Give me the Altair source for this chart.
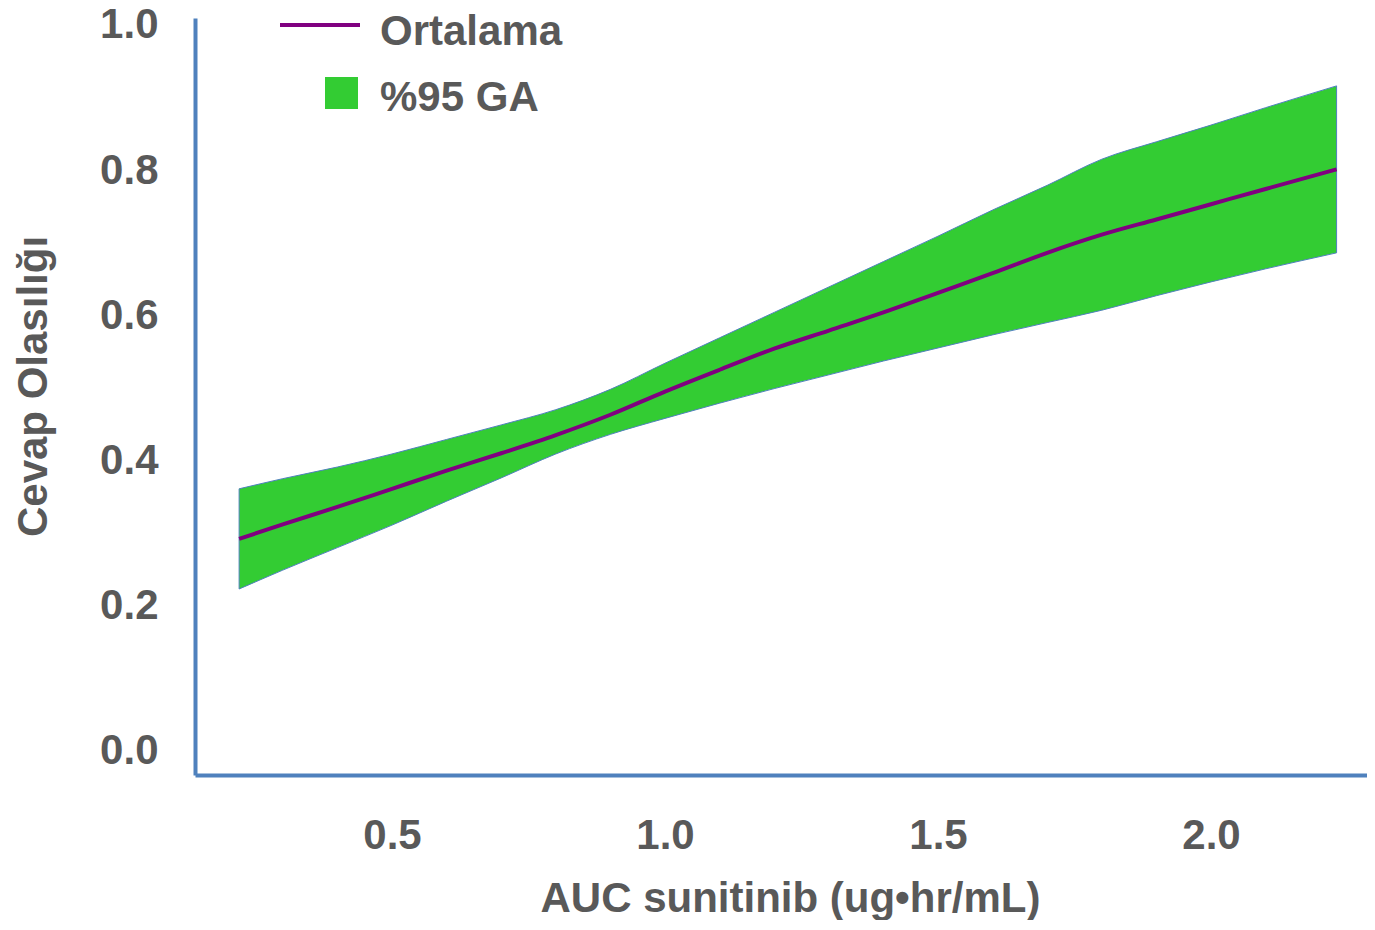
import altair as alt
import pandas as pd

# Data
auc = [0.22, 0.3, 0.4, 0.5, 0.6, 0.7, 0.8, 0.9, 1.0, 1.1, 1.2, 1.3, 1.4,
       1.5, 1.6, 1.7, 1.8, 1.9, 2.0, 2.1, 2.23]
mean = [0.288, 0.308, 0.332, 0.357, 0.382, 0.406, 0.431, 0.459, 0.491, 0.521,
        0.550, 0.575, 0.600, 0.627, 0.654, 0.682, 0.707, 0.728, 0.749, 0.770, 0.797]
upper = [0.357, 0.371, 0.387, 0.405, 0.425, 0.445, 0.466, 0.494, 0.530, 0.565,
         0.600, 0.635, 0.670, 0.705, 0.741, 0.775, 0.811, 0.835, 0.858, 0.882, 0.912]
lower = [0.219, 0.245, 0.276, 0.307, 0.340, 0.372, 0.405, 0.432, 0.454, 0.475,
         0.495, 0.514, 0.533, 0.551, 0.569, 0.586, 0.603, 0.623, 0.642, 0.660, 0.682]
x_ticks = [0.5, 1.0, 1.5, 2.0]
y_ticks = [0.0, 0.2, 0.4, 0.6, 0.8, 1.0]
legend_line_label = ["Ortalama"]
legend_band_label = ["%95 GA"]

FONT = "Liberation Sans"
TXT = "#595959"
AXIS = "#4F81BD"
GREEN = "#33CC33"
PURPLE = "#800080"

df = pd.DataFrame({"auc": auc, "mean": mean, "upper": upper, "lower": lower})

xscale = alt.Scale(domain=[0.1392, 2.2857], nice=False, zero=False)
yscale = alt.Scale(domain=[-0.0372, 1.0055], nice=False, zero=False)

xaxis = alt.Axis(values=x_ticks, format=".1f", title="AUC sunitinib (ug•hr/mL)",
                 grid=False, ticks=False, tickSize=0, domainColor=AXIS, domainWidth=4,
                 labelFont=FONT, labelFontSize=42, labelFontWeight="bold", labelColor=TXT,
                 labelPadding=40,
                 titleFont=FONT, titleFontSize=42, titleFontWeight="bold", titleColor=TXT,
                 titleX=595, titleY=136, titleAlign="center", titleBaseline="alphabetic")
yaxis = alt.Axis(values=y_ticks, format=".1f", title="Cevap Olasılığı",
                 grid=False, ticks=False, tickSize=0, domainColor=AXIS, domainWidth=4,
                 labelFont=FONT, labelFontSize=42, labelFontWeight="bold", labelColor=TXT,
                 labelPadding=37, labelOffset=3,
                 titleFont=FONT, titleFontSize=42, titleFontWeight="bold", titleColor=TXT,
                 titleAngle=-90, titleX=-149, titleY=368, titleAlign="center",
                 titleBaseline="alphabetic")

base = alt.Chart(df)
band = base.mark_area(color=GREEN, stroke=AXIS, strokeWidth=1, opacity=1,
                      interpolate="monotone").encode(
    x=alt.X("auc:Q", scale=xscale, axis=xaxis),
    y=alt.Y("upper:Q", scale=yscale, axis=yaxis),
    y2="lower:Q",
)
line = base.mark_line(color=PURPLE, strokeWidth=4, interpolate="monotone").encode(
    x=alt.X("auc:Q", scale=xscale),
    y=alt.Y("mean:Q", scale=yscale),
)

leg1 = pd.DataFrame({"label": legend_line_label})
leg2 = pd.DataFrame({"label": legend_band_label})
leg_line = alt.Chart(leg1).mark_rule(color=PURPLE, strokeWidth=4).encode(
    x=alt.value(85), x2=alt.value(165), y=alt.value(7))
leg_text1 = alt.Chart(leg1).mark_text(align="left", baseline="middle", font=FONT,
                                      fontSize=42, fontWeight="bold", color=TXT).encode(
    x=alt.value(185), y=alt.value(14), text="label:N")
leg_sq = alt.Chart(leg2).mark_rect(color=GREEN).encode(
    x=alt.value(130), x2=alt.value(163), y=alt.value(59), y2=alt.value(91))
leg_text2 = alt.Chart(leg2).mark_text(align="left", baseline="middle", font=FONT,
                                      fontSize=42, fontWeight="bold", color=TXT).encode(
    x=alt.value(185), y=alt.value(79.5), text="label:N")

chart = alt.layer(band, line, leg_line, leg_text1, leg_sq, leg_text2).properties(
    width=1172, height=757,
    background="white",
    autosize=alt.AutoSizeParams(type="none"),
    padding={"left": 187, "top": 10, "right": 0, "bottom": 145},
).configure_view(stroke=None, strokeWidth=0)

chart.save("out.html", embed_options={"renderer": "svg", "actions": False})
